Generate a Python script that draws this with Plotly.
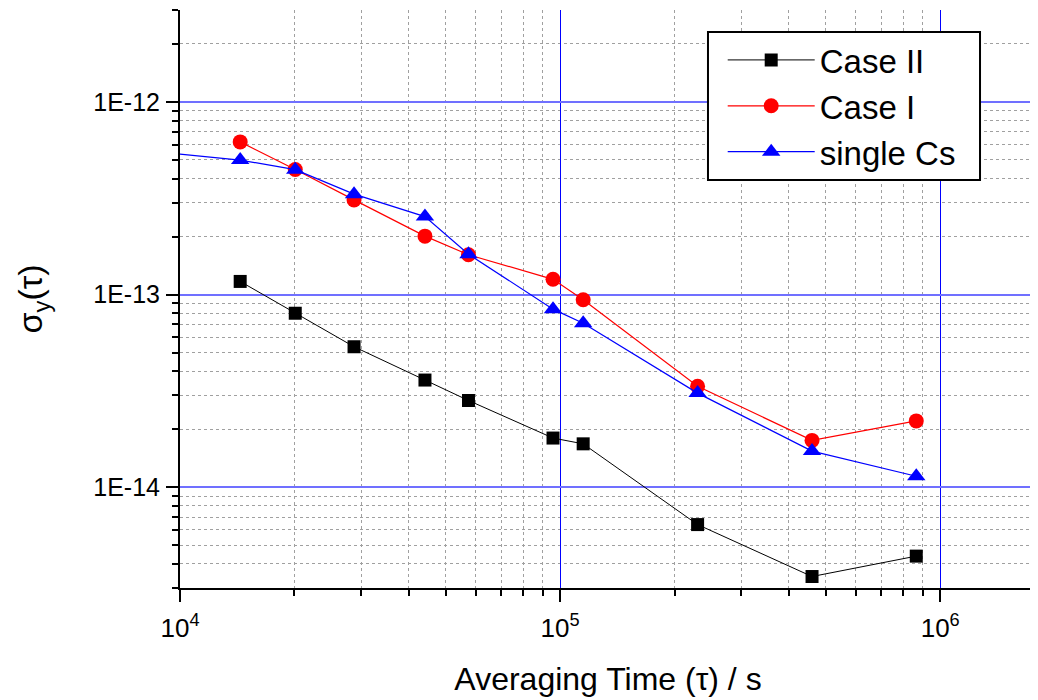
import plotly.graph_objects as go

# Averaging times (s)
tau = [14400, 20100, 28700, 44100, 57400, 95800, 115000, 230000, 460000, 865000]
tau_cs = [7200] + tau

# Allan deviations
case2 = [1.17e-13, 8.0e-14, 5.36e-14, 3.60e-14, 2.82e-14, 1.80e-14, 1.68e-14, 6.4e-15, 3.44e-15, 4.39e-15]
case1 = [6.2e-13, 4.46e-13, 3.10e-13, 2.01e-13, 1.61e-13, 1.20e-13, 9.4e-14, 3.34e-14, 1.75e-14, 2.21e-14]
single_cs = [5.7e-13, 4.99e-13, 4.45e-13, 3.32e-13, 2.54e-13, 1.62e-13, 8.4e-14, 7.1e-14, 3.08e-14, 1.54e-14, 1.14e-14]

x_ticks = [1e4, 1e5, 1e6]
x_ticktext = ["10<sup>4</sup>", "10<sup>5</sup>", "10<sup>6</sup>"]
y_ticks = [1e-14, 1e-13, 1e-12]
y_ticktext = ["1E-14", "1E-13", "1E-12"]

# minor ticks at 2..9 within each decade
x_minor = [m * d for d in [1e4, 1e5, 1e6] for m in range(2, 10)]
y_minor = [m * d for d in [1e-15, 1e-14, 1e-13, 1e-12] for m in range(2, 10)]

FONT = "Liberation Sans, Arial, sans-serif"

fig = go.Figure()
fig.add_trace(go.Scatter(x=tau, y=case2, name="Case II", mode="lines+markers",
                         line=dict(color="black", width=1),
                         marker=dict(symbol="square", size=13, color="black")))
fig.add_trace(go.Scatter(x=tau, y=case1, name="Case I", mode="lines+markers",
                         line=dict(color="#ff0000", width=1.2),
                         marker=dict(symbol="circle", size=15, color="#ff0000")))
fig.add_trace(go.Scatter(x=tau_cs, y=single_cs, name="single Cs", mode="lines+markers",
                         line=dict(color="#0000ff", width=1.2),
                         marker=dict(symbol="triangle-up", size=16, color="#0000ff")))

# the page body has an 8px default margin, so the figure is sized to compensate
fig.update_layout(
    width=1030, height=692,
    margin=dict(l=172, r=2, t=2, b=112),
    paper_bgcolor="white", plot_bgcolor="white",
    font=dict(family=FONT, color="black"),
    showlegend=True,
    legend=dict(x=0.634, y=0.962, xanchor="left", yanchor="top",
                borderwidth=0, bgcolor="rgba(0,0,0,0)",
                font=dict(size=33, family=FONT), itemwidth=87,
                tracegroupgap=0),
    shapes=[dict(type="rect", xref="paper", yref="paper",
                 x0=0.6168, x1=0.9346, y0=0.7059, y1=0.9619,
                 line=dict(color="black", width=2), fillcolor="white", layer="above")],
)

fig.update_xaxes(
    type="log", range=[4, 6.252], automargin=False,
    tickvals=x_ticks, ticktext=x_ticktext,
    tickfont=dict(size=26, family=FONT), ticklabelstandoff=4,
    ticks="outside", ticklen=12, tickwidth=2, tickcolor="black",
    showline=True, linecolor="black", linewidth=2, mirror=False,
    showgrid=True, gridcolor="#0000ff", gridwidth=1,
    zeroline=False,
    minor=dict(tickvals=x_minor, ticks="outside", ticklen=6, tickwidth=2, tickcolor="black",
               showgrid=True, gridcolor="#a0a0a0", griddash="dot", gridwidth=1),
    title=dict(text="Averaging Time (τ) / s", font=dict(size=32, family=FONT), standoff=25),
)
fig.update_yaxes(
    type="log", range=[-14.523, -11.523], automargin=False,
    tickvals=y_ticks, ticktext=y_ticktext,
    tickfont=dict(size=25, family=FONT),
    ticks="outside", ticklen=12, tickwidth=2, tickcolor="black",
    ticklabelstandoff=1,
    showline=True, linecolor="black", linewidth=2, mirror=False,
    showgrid=True, gridcolor="#7070ff", gridwidth=2,
    zeroline=False,
    minor=dict(tickvals=y_minor, ticks="outside", ticklen=6, tickwidth=2, tickcolor="black",
               showgrid=True, gridcolor="#a0a0a0", griddash="dot", gridwidth=1),
    title=dict(text="σ<sub>y</sub>(τ)", font=dict(size=34, family=FONT), standoff=40),
)

fig.write_html("out.html")
